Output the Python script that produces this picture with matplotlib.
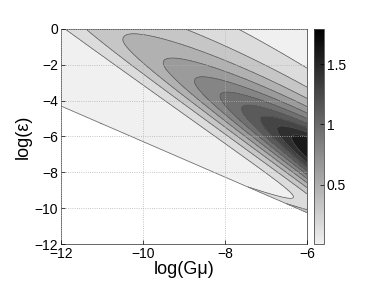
import numpy as np
import matplotlib
matplotlib.use('Agg')
import matplotlib.pyplot as plt
from matplotlib.colors import LinearSegmentedColormap, Normalize
from matplotlib.cm import ScalarMappable

plt.rcParams['font.family'] = ['Liberation Sans', 'DejaVu Sans']

# values
levels = [0.16, 0.32, 0.48, 0.64, 0.80, 0.96, 1.12, 1.28, 1.44, 1.60]
# tips of the closed tongues (log Gmu, log eps) and their level
tip_x = [-10.44, -9.5, -8.8, -8.17, -7.59, -7.15, -6.73, -6.34]
tip_y = [-0.72, -1.8, -2.8, -3.78, -4.4, -5.17, -5.6, -6.06]
tip_val = [0.48, 0.64, 0.80, 0.96, 1.12, 1.28, 1.44, 1.60]
# maximum at the right edge
peak_x, peak_y, peak_val = -6.0, -6.5, 1.78
# widths of the band above / below the ridge (left and right edge)
width_x = [-12.0, -6.0]
width_lo = [1.52, 2.0]
width_up = [1.45, 0.85]
decay_up = 0.57
# lower edge of the allowed region (white below)
bound_x = [-12.0, -6.0]
bound_y = [-4.3, -10.25]
edge_rise = [0.16, 0.42]      # extra value on the lower edge at x = -7.4 / -6
edge_rise_x = [-7.4, -6.0]
cbar_range = [0.01, 1.79]

# ridge and amplitude through the tongue tips
rx = np.array(tip_x + [peak_x])
ry = np.array(tip_y + [peak_y])
rv = np.array(tip_val + [peak_val])
ridge = np.poly1d(np.polyfit(rx, ry, 1))
amp = np.poly1d(np.polyfit(rx, np.log(rv), 1))

xs = np.linspace(-12, -6, 700)
ys = np.linspace(-12, 0, 700)
X, Y = np.meshgrid(xs, ys)
YB = np.interp(X, bound_x, bound_y)

d = Y - ridge(X)
wl = np.interp(X, width_x, width_lo)
wu = np.interp(X, width_x, width_up)
g_lo = np.exp(-(d / wl) ** 2)
g_up = np.exp(-decay_up * (np.sqrt(1 + (d / wu) ** 2) - 1))
F = np.exp(amp(X)) * np.where(d < 0, g_lo, g_up)
# rise right at the lower edge
k = np.log(edge_rise[1] / edge_rise[0]) / (edge_rise_x[1] - edge_rise_x[0])
B = edge_rise[0] * np.exp(k * (X - edge_rise_x[0]))
F = F + B * np.exp(-(Y - YB) / 0.3)
F = np.where(Y < YB, np.nan, F)

cmap = LinearSegmentedColormap.from_list('g', [(0.94, 0.94, 0.94), (0, 0, 0)])
norm = Normalize(vmin=cbar_range[0], vmax=cbar_range[1])
fill_levels = [0.0] + levels + [5.0]
fill_colors = [cmap(norm(v)) for v in [cbar_range[0]] + levels]

fig = plt.figure(figsize=(3.74, 2.89), dpi=100)
ax = fig.add_axes([0.163, 0.1557, 0.658, 0.744])
ax.contourf(X, Y, F, levels=fill_levels, colors=fill_colors)
ax.contour(X, Y, F, levels=levels, colors='0.35', linewidths=0.5)
ax.contour(X, Y, Y - YB, levels=[0], colors='0.45', linewidths=0.6)

ax.set_xlim(-12, -6)
ax.set_ylim(-12, 0)
ax.set_xticks([-12, -10, -8, -6])
ax.set_yticks([-12, -10, -8, -6, -4, -2, 0])
ax.tick_params(direction='in', length=3, width=0.5, labelsize=10, pad=2)
ax.grid(True, linestyle=':', color='0.7', linewidth=0.6)
ax.set_axisbelow(False)
for sp in ax.spines.values():
    sp.set_color('0.3')
    sp.set_linewidth(0.6)
ax.set_xlabel('log(G\u03bc)', fontsize=13, labelpad=0)
ax.set_ylabel('log(\u03b5)', fontsize=13, labelpad=2)

cax = fig.add_axes([0.8396, 0.1557, 0.0267, 0.744])
cb = fig.colorbar(ScalarMappable(norm=norm, cmap=cmap), cax=cax, ticks=[0.5, 1, 1.5])
cb.ax.set_yticklabels(['0.5', '1', '1.5'])
cb.ax.tick_params(direction='in', length=3, width=0.5, labelsize=10, pad=2)
cb.outline.set_edgecolor('0.3')
cb.outline.set_linewidth(0.6)

fig.savefig('out.png', dpi=100)
